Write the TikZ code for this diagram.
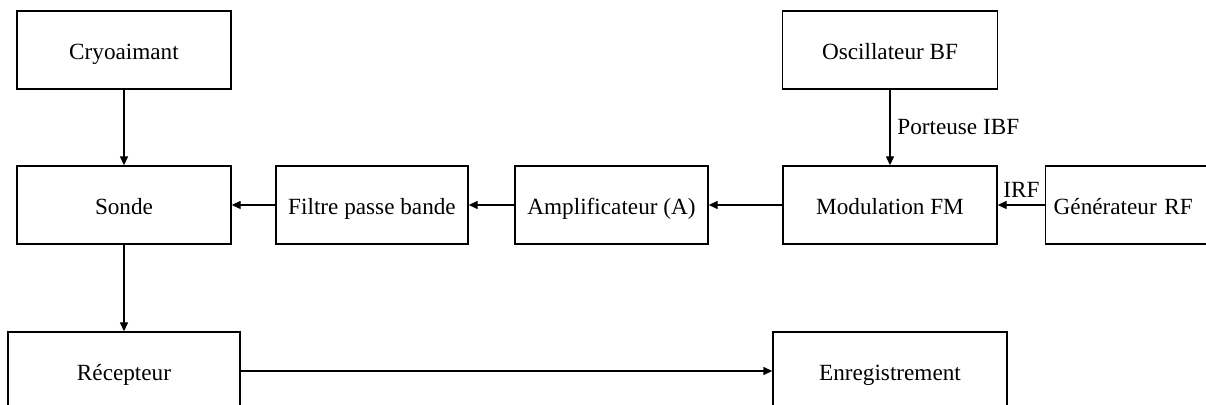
\documentclass[tikz,border=0pt]{standalone}
\usepackage{fontspec}
\setmainfont{Liberation Serif}
\usetikzlibrary{positioning,arrows.meta}

\begin{document}
\begin{tikzpicture}[
  x=0.5pt, y=-0.5pt, line width=0.7pt,
  >={Triangle[length=4.5pt,width=4pt]},
  blk/.style={
    rectangle, draw, minimum height=39pt, inner sep=0pt,
    text height=9.5pt, text depth=0pt,
    font=\fontsize{11.6}{14}\selectfont
  },
  lbl/.style={font=\fontsize{11.6}{14}\selectfont}
]
\useasboundingbox (0,0) rectangle (1206,405);
\clip (0,0) rectangle (1206,405);

\node[blk, minimum width=107pt] (cryo) at (124,50) {Cryoaimant};
\node[blk, minimum width=107.5pt] (osc) at (890,50) {Oscillateur BF};
\node[blk, minimum width=107pt] (sonde) at (124,205) {Sonde};
\node[blk, minimum width=96pt] (filtre) at (372,205) {Filtre passe bande};
\node[blk, minimum width=96.5pt] (ampli) at (611.5,205) {Amplificateur (A)};
\node[blk, minimum width=107pt] (modul) at (890,205) {Modulation FM};
\node[blk, anchor=west, text width=77pt, align=left, inner xsep=4pt]
  (gen) at (1045,205) {Générateur RF};
\node[blk, minimum width=116pt] (recep) at (124,371) {Récepteur};
\node[blk, minimum width=117pt] (enreg) at (890,371) {Enregistrement};

\draw[->] (cryo) -- (sonde);
\draw[->] (osc) -- node[lbl, right] {Porteuse IBF} (modul);
\draw[->] (gen) -- node[lbl, above] {IRF} (modul);
\draw[->] (modul) -- (ampli);
\draw[->] (ampli) -- (filtre);
\draw[->] (filtre) -- (sonde);
\draw[->] (sonde) -- (recep);
\draw[->] (recep) -- (enreg);

\end{tikzpicture}
\end{document}
